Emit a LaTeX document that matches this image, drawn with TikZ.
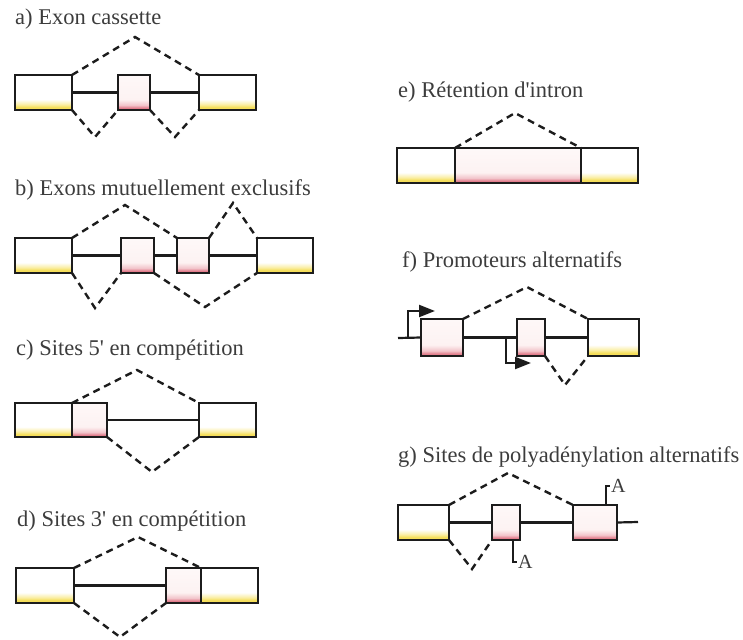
\documentclass[tikz,border=0pt]{standalone}
\usepackage{fontspec}
\setmainfont{Liberation Serif}
\usetikzlibrary{arrows.meta}

\definecolor{ink}{RGB}{28,28,28}
\definecolor{txt}{RGB}{60,60,60}
\definecolor{yelS}{RGB}{245,222,90}
\definecolor{yelM}{RGB}{250,238,165}
\definecolor{pinkS}{RGB}{225,125,140}
\definecolor{pinkM}{RGB}{242,196,202}
\definecolor{pinkL}{RGB}{253,242,242}
\definecolor{pinkT}{RGB}{254,248,248}

% TikZ maps a shaded path onto the band 25bp..75bp of the shading
% constitutive exons: white with a yellow band at the bottom
\pgfdeclareverticalshading{exonYellow}{100bp}{color(0bp)=(yelS); color(29bp)=(yelS); color(33bp)=(yelM); color(40bp)=(white); color(100bp)=(white)}
% alternative exons: near white, deepening to pink at the bottom
\pgfdeclareverticalshading{exonPink}{100bp}{color(0bp)=(pinkS); color(28bp)=(pinkS); color(32bp)=(pinkM); color(40bp)=(pinkL); color(75bp)=(pinkT); color(100bp)=(pinkT)}

\tikzset{
  exon/.style={draw=ink, line width=2pt, inner sep=0pt, outer sep=0pt, shade, anchor=north west},
  constit/.style={exon, shading=exonYellow},
  altex/.style={exon, shading=exonPink},
  intron/.style={draw=ink, line width=2.2pt},
  splice/.style={draw=ink, line width=2.4pt, dash pattern=on 7pt off 5pt},
  headline/.style={anchor=base west, inner sep=0pt, text=txt, font=\fontsize{22.5}{27}\selectfont},
  promoter/.style={draw=ink, line width=2.2pt, -{Triangle[length=16pt,width=12pt]}},
  polya/.style={draw=ink, line width=1.8pt},
  polytext/.style={anchor=west, inner sep=1pt, text=txt, font=\fontsize{20}{24}\selectfont},
}

\begin{document}
\begin{tikzpicture}[x=1pt,y=-1pt]
\useasboundingbox (0,0) rectangle (743,639);

% ---------- a) cassette exon ----------
\node[headline] (ta) at (15,25) {a) Exon cassette};
\node[constit, minimum width=57pt, minimum height=35pt] (A1) at (15,75) {};
\node[altex,   minimum width=32pt, minimum height=35pt] (A2) at (118,75) {};
\node[constit, minimum width=57pt, minimum height=35pt] (A3) at (199,75) {};
\draw[intron] (A1.east) -- (A2.west);
\draw[intron] (A2.east) -- (A3.west);
\coordinate (a-top) at (135,37);
\coordinate (a-bl) at (95,137);
\coordinate (a-br) at (175,137);
\draw[splice] (A1.north east) -- (a-top) -- (A3.north west);
\draw[splice] (A1.south east) -- (a-bl) -- (A2.south west);
\draw[splice] (A2.south east) -- (a-br) -- (A3.south west);

% ---------- b) mutually exclusive exons ----------
\node[headline] (tb) at (15,195) {b) Exons mutuellement exclusifs};
\node[constit, minimum width=57pt, minimum height=35pt] (B1) at (15,238) {};
\node[altex,   minimum width=33pt, minimum height=35pt] (B2) at (121,238) {};
\node[altex,   minimum width=32pt, minimum height=35pt] (B3) at (177,238) {};
\node[constit, minimum width=56pt, minimum height=35pt] (B4) at (257,238) {};
\draw[intron] (B1.east) -- (B2.west);
\draw[intron] (B2.east) -- (B3.west);
\draw[intron] (B3.east) -- (B4.west);
\coordinate (b-t1) at (125,205);
\coordinate (b-t2) at (233,203);
\coordinate (b-b1) at (95,308);
\coordinate (b-b2) at (205,307);
\draw[splice] (B1.north east) -- (b-t1) -- (B3.north west);
\draw[splice] (B3.north east) -- (b-t2) -- (B4.north west);
\draw[splice] (B1.south east) -- (b-b1) -- (B2.south west);
\draw[splice] (B2.south east) -- (b-b2) -- (B4.south west);

% ---------- c) competing 5' sites ----------
\node[headline] (tc) at (16,355) {c) Sites 5\textquotesingle{} en compétition};
\node[constit, minimum width=57pt, minimum height=34pt] (C1) at (15,403) {};
\node[altex,   minimum width=35pt, minimum height=34pt] (C2) at (72,403) {};
\node[constit, minimum width=57pt, minimum height=34pt] (C3) at (199,403) {};
\draw[intron] (C2.east) -- (C3.west);
\coordinate (c-top) at (137,370);
\coordinate (c-bot) at (152,472);
\draw[splice] (C1.north east) -- (c-top) -- (C3.north west);
\draw[splice] (C2.south east) -- (c-bot) -- (C3.south west);

% ---------- d) competing 3' sites ----------
\node[headline] (td) at (17,526) {d) Sites 3\textquotesingle{} en compétition};
\node[constit, minimum width=58pt, minimum height=35pt] (D1) at (16,568) {};
\node[altex,   minimum width=35pt, minimum height=35pt] (D2) at (166,568) {};
\node[constit, minimum width=57pt, minimum height=35pt] (D3) at (201,568) {};
\draw[intron] (D1.east) -- (D2.west);
\coordinate (d-top) at (138,537);
\coordinate (d-bot) at (120,637);
\draw[splice] (D1.north east) -- (d-top) -- (D3.north west);
\draw[splice] (D1.south east) -- (d-bot) -- (D2.south west);

% ---------- e) intron retention ----------
\node[headline] (te) at (398,98) {e) Rétention d\textquotesingle intron};
\node[constit, minimum width=58pt,  minimum height=35pt] (E1) at (397,148) {};
\node[altex,   minimum width=126pt, minimum height=35pt] (E2) at (455,148) {};
\node[constit, minimum width=57pt,  minimum height=35pt] (E3) at (581,148) {};
\coordinate (e-top) at (515,113);
\draw[splice] (E1.north east) -- (e-top) -- (E3.north west);

% ---------- f) alternative promoters ----------
\node[headline] (tf) at (402,267) {f) Promoteurs alternatifs};
\coordinate (F0) at (398,338);
\node[altex,   minimum width=42pt, minimum height=37pt] (F1) at (421,319) {};
\node[altex,   minimum width=28pt, minimum height=37pt] (F2) at (517,319) {};
\node[constit, minimum width=51pt, minimum height=37pt] (F3) at (588,319) {};
\draw[intron] (F0) -- (F1.west);
\draw[intron] (F1.east) -- (F2.west);
\draw[intron] (F2.east) -- (F3.west);
\coordinate (f-p1) at (408,338);
\coordinate (f-p1tip) at (435,311);
\coordinate (f-p2) at (506,338);
\coordinate (f-p2tip) at (531,363);
\draw[promoter] (f-p1) |- (f-p1tip);
\draw[promoter] (f-p2) |- (f-p2tip);
\coordinate (f-top) at (527,287);
\coordinate (f-bot) at (565,385);
\draw[splice] (F1.north east) -- (f-top) -- (F3.north west);
\draw[splice] (F2.south east) -- (f-bot) -- (F3.south west);

% ---------- g) alternative polyadenylation sites ----------
\node[headline] (tg) at (398,462) {g) Sites de polyadénylation alternatifs};
\node[constit, minimum width=51pt, minimum height=35pt] (G1) at (398,505) {};
\node[altex,   minimum width=28pt, minimum height=35pt] (G2) at (492,505) {};
\node[altex,   minimum width=44pt, minimum height=35pt] (G3) at (573,505) {};
\coordinate (G4) at (638,522);
\draw[intron] (G1.east) -- (G2.west);
\draw[intron] (G2.east) -- (G3.west);
\draw[intron] (G3.east) -- (G4);
\coordinate (g-top) at (508,473);
\coordinate (g-bot) at (472,569);
\draw[splice] (G1.north east) -- (g-top) -- (G3.north west);
\draw[splice] (G1.south east) -- (g-bot) -- (G2.south west);
\node[polytext] (pa1) at (517,562) {A};
\node[polytext] (pa2) at (610,486) {A};
\coordinate (g-pa1) at (513,540);
\coordinate (g-pa2) at (606,505);
\draw[polya] (g-pa1) |- (pa1.west);
\draw[polya] (g-pa2) |- (pa2.west);
\end{tikzpicture}
\end{document}
